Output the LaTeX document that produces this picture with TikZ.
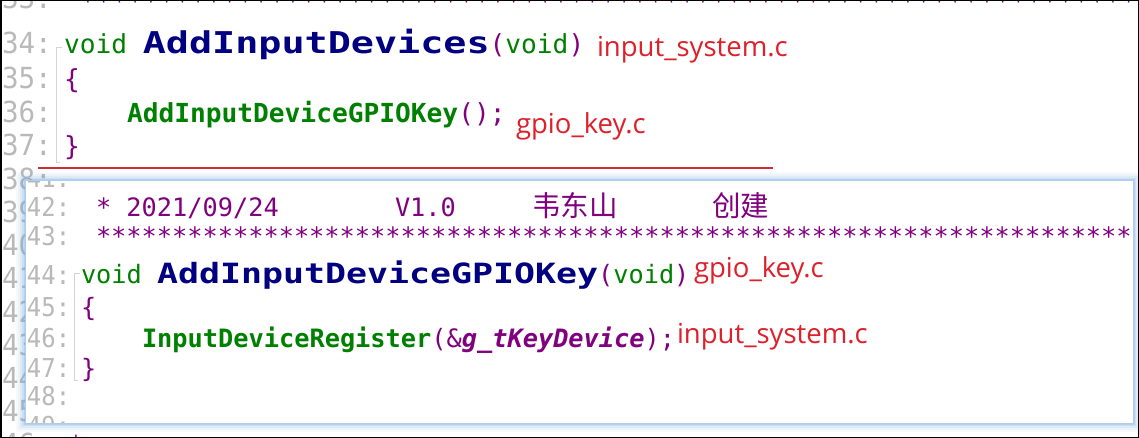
\documentclass[tikz,border=0pt]{standalone}
\usepackage{fontspec}
\setmainfont{DejaVu Sans Mono}
\newfontfamily\codefont{DejaVu Sans Mono}[BoldFont={DejaVu Sans Mono Bold},ItalicFont={DejaVu Sans Mono Oblique},BoldItalicFont={DejaVu Sans Mono Bold Oblique}]
\newfontfamily\bigfontA{DejaVu Sans Mono}[BoldFont={DejaVu Sans Mono Bold},FakeStretch=1.28]
\newfontfamily\bigfontB{DejaVu Sans Mono}[BoldFont={DejaVu Sans Mono Bold},FakeStretch=1.25]
\newfontfamily\lnfontA{DejaVu Sans Mono}[FakeStretch=0.95]
\newfontfamily\lnfontB{DejaVu Sans Mono}[FakeStretch=0.92]
\newfontfamily\labfont{Open Sans}
\newfontfamily\cjk{Noto Sans CJK SC}
\definecolor{cgreen}{RGB}{0,128,0}
\definecolor{cnavy}{RGB}{0,0,128}
\definecolor{cpurp}{RGB}{128,0,128}
\definecolor{labred}{RGB}{222,32,42}
\definecolor{lngray}{RGB}{185,185,185}
\definecolor{redline}{RGB}{205,45,55}
\definecolor{glowc}{RGB}{120,170,225}
\definecolor{panelline}{RGB}{175,205,235}
\definecolor{guidec}{RGB}{212,212,212}
\newcommand\kG[1]{{\color{cgreen}#1}}
\newcommand\kP[1]{{\color{cpurp}#1}}
\newcommand\kN[1]{{\color{cnavy}#1}}
\newcommand\starrow{************************************************************************}
\tikzset{
  txt/.style={anchor=base west, inner sep=0pt, outer sep=0pt},
  lnA/.style={txt, text=lngray, font=\lnfontA\fontsize{29}{30}\selectfont},
  lnB/.style={txt, text=lngray, font=\lnfontB\fontsize{26}{30}\selectfont},
  codeA/.style={txt, font=\codefont\fontsize{26.2}{30}\selectfont},
  codeB/.style={txt, font=\codefont\fontsize{25.3}{30}\selectfont},
  lab/.style={txt, text=labred, font=\labfont\fontsize{27.5}{30}\selectfont},
  cjktxt/.style={txt, text=cpurp, font=\cjk\fontsize{28.5}{30}\selectfont},
  guide/.style={draw=guidec, line width=1pt},
}
\begin{document}
\begin{tikzpicture}[x=1pt,y=1pt]
\useasboundingbox (0,0) rectangle (1139,-438);
\fill[white] (0,0) rectangle (1139,-438);
% ---------- background editor ----------
\begin{scope}
\clip (0,0) rectangle (1139,-438);
\node[lnA] (b33) at (2,-8.5) {33:};
\node[codeA, text=cpurp] (b33t) at (80,-11) {\starrow};
\node[lnA] (b34) at (2,-54) {34:};
\node[codeA] (b34t) at (64,-54) {\kG{void} {\bigfontA\bfseries\kN{\fontsize{30}{30}\selectfont AddInputDevices}}\kP{(}\kG{void}\kP{)}};
\node[lnA] (b35) at (2,-89) {35:};
\node[codeA, text=cpurp] (b35t) at (64,-89) {\{};
\node[lnA] (b36) at (2,-122.5) {36:};
\node[codeA] (b36t) at (127,-122.5) {\kG{\bfseries AddInputDeviceGPIOKey}\kP{();}};
\node[lnA] (b37) at (2,-156) {37:};
\node[codeA, text=cpurp] (b37t) at (64,-156) {\}};
\foreach \n [count=\k from 1] in {38,39,40,41,42,43,44,45,46} {
  \node[lnA] (b\n) at (2,-156-33.2*\k) {\n:};
}
\node[codeA, text=cpurp] (b46t) at (68,-454.8) {*};
\draw[guide] (62,-48) -- (56,-48) -- (56,-163) -- (60,-163);
\draw[redline, line width=2pt] (38,-168) -- (773,-168);
\end{scope}
% ---------- overlay panel ----------
\foreach \i/\o in {9/0.06,7/0.08,5/0.12,3/0.18,1.5/0.25} {
  \fill[glowc, opacity=\o] (25-\i,-181+\i) rectangle (1133+\i,-423-\i);
}
\fill[white] (25,-181) rectangle (1133,-423);
\begin{scope}
\clip (25,-181) rectangle (1133,-423);
\node[lnB] (o41) at (27,-188) {41:};
\node[lnB] (o42) at (27,-217) {42:};
\node[codeB, text=cpurp] (o42a) at (96,-217) {* 2021/09/24};
\node[codeB, text=cpurp] (o42b) at (395,-217) {V1.0};
\node[cjktxt] (o42c) at (532,-217) {韦东山};
\node[cjktxt] (o42d) at (712,-217) {创建};
\node[lnB] (o43) at (27,-245) {43:};
\node[codeB, text=cpurp] (o43t) at (96,-245) {\starrow};
\node[lnB] (o44) at (27,-284) {44:};
\node[codeB] (o44t) at (81,-283) {\kG{void} {\bigfontB\bfseries\kN{\fontsize{27.9}{30}\selectfont AddInputDeviceGPIOKey}}\kP{(}\kG{void}\kP{)}};
\node[lnB] (o45) at (27,-316) {45:};
\node[codeB, text=cpurp] (o45t) at (81,-316) {\{};
\node[lnB] (o46) at (27,-347) {46:};
\node[codeB] (o46t) at (142,-347) {\kG{\bfseries InputDeviceRegister}\kP{(\&}{\bfseries\itshape\kP{g\_tKeyDevice}}\kP{);}};
\node[lnB] (o47) at (27,-377) {47:};
\node[codeB, text=cpurp] (o47t) at (81,-377) {\}};
\node[lnB] (o48) at (27,-405) {48:};
\node[lnB] (o49) at (27,-435) {49:};
\draw[guide] (80,-273) -- (74,-273) -- (74,-380) -- (78,-380);
\end{scope}
\draw[panelline, line width=1pt] (25,-181) rectangle (1133,-423);
% ---------- red labels ----------
\node[lab] (l1) at (597,-57) {input\_system.c};
\node[lab] (l2) at (516,-134) {gpio\_key.c};
\node[lab] (l3) at (694,-277) {gpio\_key.c};
\node[lab] (l4) at (677,-343) {input\_system.c};
% ---------- frame ----------
\draw[black, line width=1.5pt] (0.75,-0.75) rectangle (1138.25,-437.25);
\end{tikzpicture}
\end{document}
